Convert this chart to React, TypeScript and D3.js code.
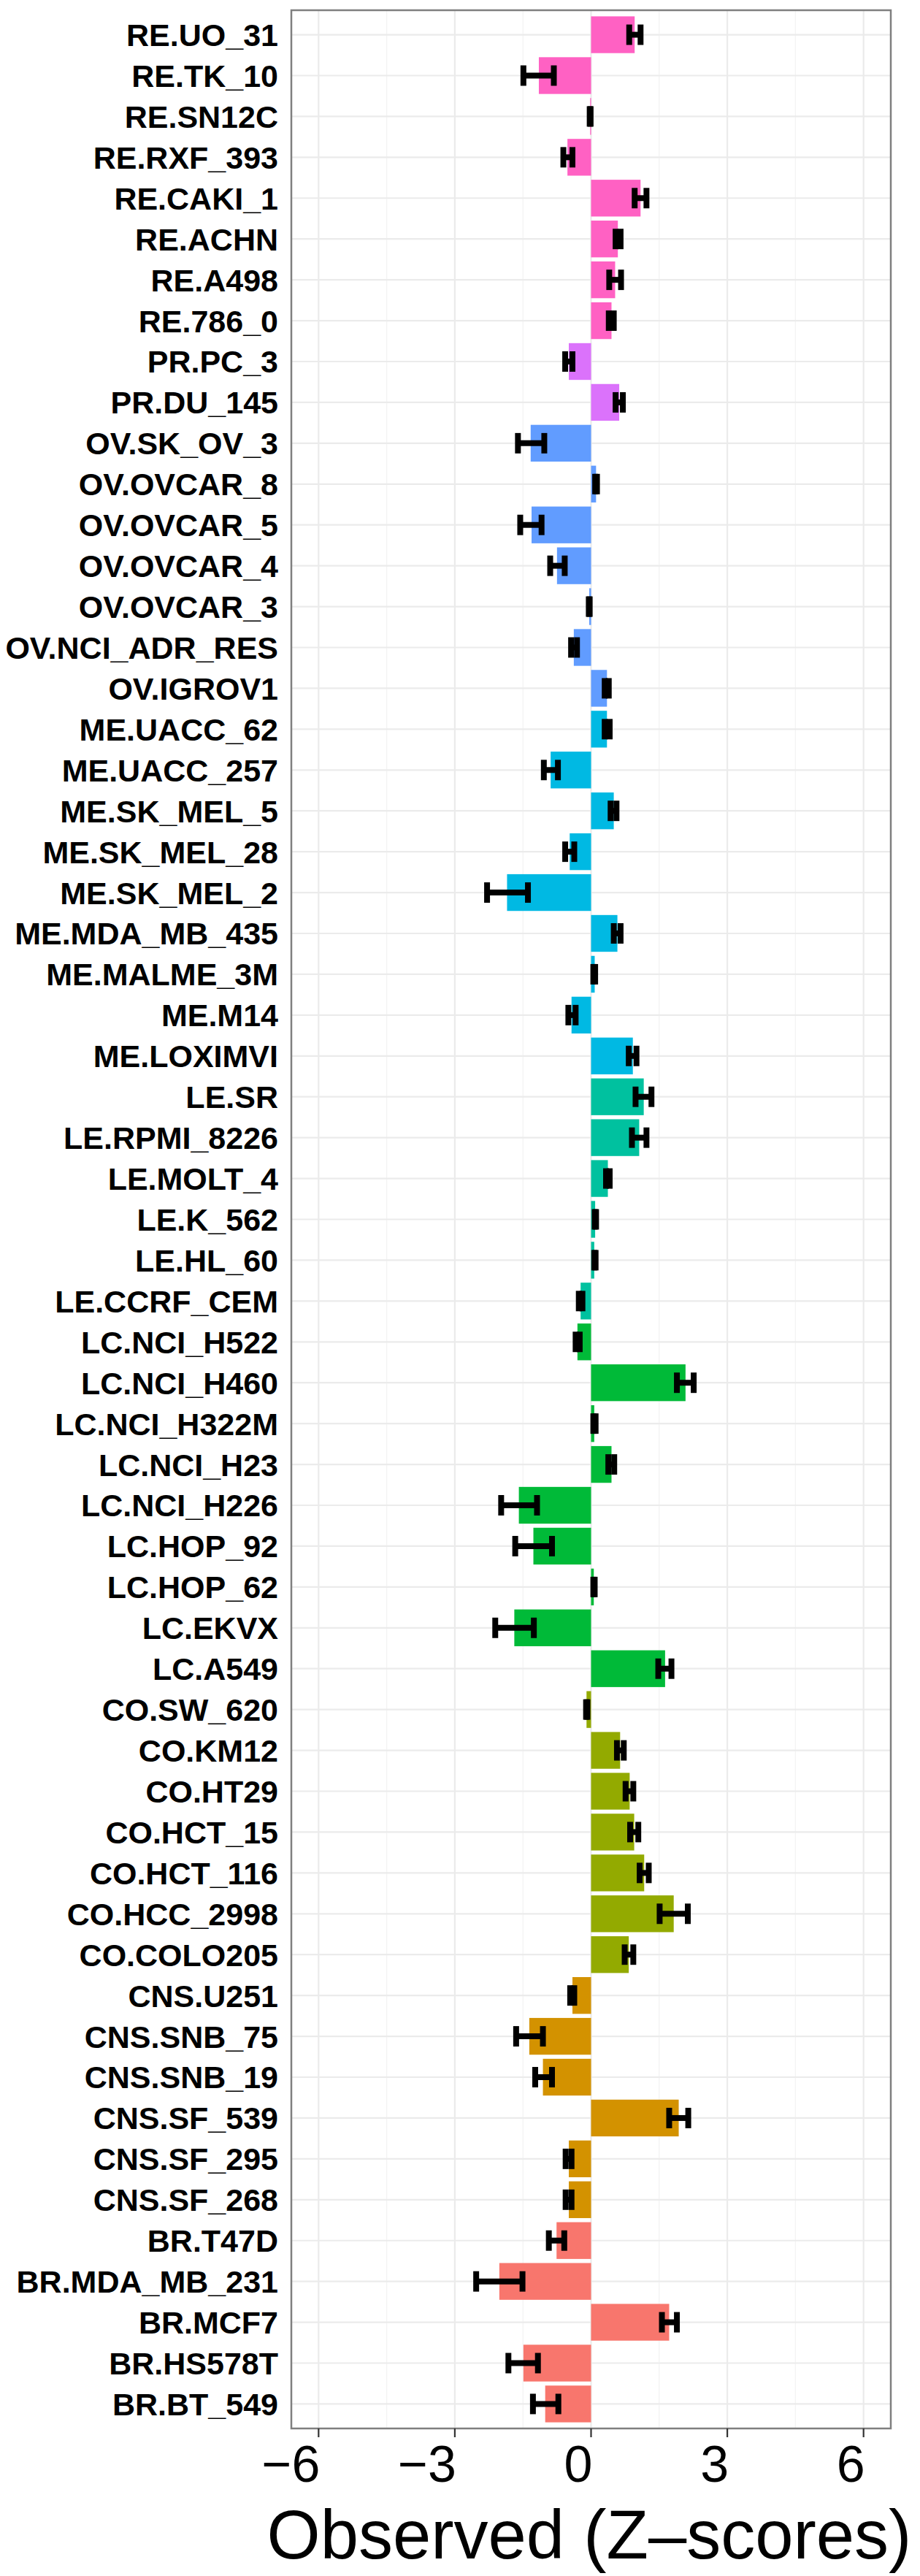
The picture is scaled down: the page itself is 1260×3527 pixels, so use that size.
import React from "react";
import * as d3 from "d3";

const cellLines = [
  "RE.UO_31", "RE.TK_10", "RE.SN12C", "RE.RXF_393", "RE.CAKI_1", "RE.ACHN", "RE.A498", "RE.786_0",
  "PR.PC_3", "PR.DU_145",
  "OV.SK_OV_3", "OV.OVCAR_8", "OV.OVCAR_5", "OV.OVCAR_4", "OV.OVCAR_3", "OV.NCI_ADR_RES", "OV.IGROV1",
  "ME.UACC_62", "ME.UACC_257", "ME.SK_MEL_5", "ME.SK_MEL_28", "ME.SK_MEL_2", "ME.MDA_MB_435", "ME.MALME_3M", "ME.M14", "ME.LOXIMVI",
  "LE.SR", "LE.RPMI_8226", "LE.MOLT_4", "LE.K_562", "LE.HL_60", "LE.CCRF_CEM",
  "LC.NCI_H522", "LC.NCI_H460", "LC.NCI_H322M", "LC.NCI_H23", "LC.NCI_H226", "LC.HOP_92", "LC.HOP_62", "LC.EKVX", "LC.A549",
  "CO.SW_620", "CO.KM12", "CO.HT29", "CO.HCT_15", "CO.HCT_116", "CO.HCC_2998", "CO.COLO205",
  "CNS.U251", "CNS.SNB_75", "CNS.SNB_19", "CNS.SF_539", "CNS.SF_295", "CNS.SF_268",
  "BR.T47D", "BR.MDA_MB_231", "BR.MCF7", "BR.HS578T", "BR.BT_549",
];

const zScores = [
  0.96, -1.15, -0.02, -0.52, 1.09, 0.59, 0.53, 0.45,
  -0.49, 0.62,
  -1.33, 0.11, -1.31, -0.75, -0.04, -0.38, 0.35,
  0.35, -0.89, 0.5, -0.47, -1.85, 0.58, 0.08, -0.43, 0.92,
  1.16, 1.06, 0.37, 0.09, 0.07, -0.23,
  -0.3, 2.08, 0.07, 0.45, -1.59, -1.27, 0.06, -1.69, 1.63,
  -0.1, 0.64, 0.85, 0.95, 1.17, 1.82, 0.83,
  -0.41, -1.36, -1.06, 1.93, -0.49, -0.49,
  -0.76, -2.02, 1.72, -1.49, -1.01,
];

const ciLow = [
  0.84, -1.49, -0.03, -0.61, 0.96, 0.54, 0.4, 0.39,
  -0.57, 0.54,
  -1.61, 0.09, -1.56, -0.9, -0.05, -0.44, 0.3,
  0.3, -1.04, 0.43, -0.57, -2.29, 0.5, 0.05, -0.5, 0.83,
  0.98, 0.9, 0.33, 0.08, 0.07, -0.27,
  -0.34, 1.89, 0.05, 0.38, -1.98, -1.67, 0.05, -2.11, 1.48,
  -0.11, 0.57, 0.76, 0.86, 1.07, 1.51, 0.74,
  -0.46, -1.65, -1.23, 1.72, -0.56, -0.56,
  -0.93, -2.53, 1.56, -1.82, -1.28,
];

const ciHigh = [
  1.09, -0.82, -0.01, -0.41, 1.22, 0.65, 0.66, 0.5,
  -0.41, 0.7,
  -1.03, 0.13, -1.09, -0.58, -0.03, -0.31, 0.39,
  0.41, -0.73, 0.56, -0.37, -1.39, 0.65, 0.09, -0.34, 1.0,
  1.33, 1.22, 0.41, 0.11, 0.1, -0.19,
  -0.25, 2.26, 0.1, 0.51, -1.19, -0.86, 0.08, -1.26, 1.77,
  -0.08, 0.72, 0.93, 1.04, 1.27, 2.13, 0.93,
  -0.37, -1.06, -0.86, 2.14, -0.43, -0.43,
  -0.59, -1.51, 1.89, -1.17, -0.72,
];

const tissues = ["BR", "CNS", "CO", "LC", "LE", "ME", "OV", "PR", "RE"];
const tissueColors = ["#F8766D", "#D39200", "#93AA00", "#00BA38", "#00C19F", "#00B9E3", "#619CFF", "#DB72FB", "#FF61C3"];

const xTicks = [-6, -3, 0, 3, 6];
const xMinorTicks = [-4.5, -1.5, 1.5, 4.5];
const xTitle = "Observed (Z–scores)";

const W = 1260;
const H = 3527;
const panel = { left: 399, right: 1220, top: 14, bottom: 3325 };

export default function App() {
  const x = d3.scaleLinear().domain([-6.6, 6.6]).range([panel.left, panel.right]);
  const y = d3.scalePoint<string>().domain(cellLines).range([panel.top, panel.bottom]).padding(0.6);
  const step = y.step();
  const color = d3.scaleOrdinal<string, string>().domain(tissues).range(tissueColors);
  const fmt = (v: number) => (v < 0 ? "\u2212" + Math.abs(v) : String(v));
  const font = "'Liberation Sans', Arial, Helvetica, sans-serif";

  return (
    <svg
      width={W}
      height={H}
      viewBox={`0 0 ${W} ${H}`}
      style={{ position: "absolute", left: 0, top: 0, display: "block", background: "#fff" }}
    >
      <rect x={0} y={0} width={W} height={H} fill="#fff" />
      {xMinorTicks.map((t) => (
        <line key={"mn" + t} x1={x(t)} x2={x(t)} y1={panel.top} y2={panel.bottom} stroke="#F3F3F3" strokeWidth={1.3} />
      ))}
      {xTicks.map((t) => (
        <line key={"mj" + t} x1={x(t)} x2={x(t)} y1={panel.top} y2={panel.bottom} stroke="#EBEBEB" strokeWidth={2.2} />
      ))}
      {cellLines.map((c) => (
        <line key={"h" + c} x1={panel.left} x2={panel.right} y1={y(c)!} y2={y(c)!} stroke="#EBEBEB" strokeWidth={2.2} />
      ))}
      {cellLines.map((c, i) => {
        const v = zScores[i];
        const g = c.split(".")[0];
        const x0 = x(Math.min(0, v));
        const x1 = x(Math.max(0, v));
        return (
          <rect
            key={"b" + c}
            x={x0}
            y={y(c)! - step * 0.45}
            width={Math.max(x1 - x0, 0.5)}
            height={step * 0.9}
            fill={color(g)}
          />
        );
      })}
      {cellLines.map((c, i) => {
        const cy = y(c)!;
        const lo = x(ciLow[i]);
        const hi = x(ciHigh[i]);
        const hw = step * 0.25;
        return (
          <g key={"e" + c} stroke="#000" strokeWidth={8} strokeLinecap="butt">
            <line x1={lo} x2={hi} y1={cy} y2={cy} />
            <line x1={lo} x2={lo} y1={cy - hw} y2={cy + hw} />
            <line x1={hi} x2={hi} y1={cy - hw} y2={cy + hw} />
          </g>
        );
      })}
      <rect
        x={panel.left}
        y={panel.top}
        width={panel.right - panel.left}
        height={panel.bottom - panel.top}
        fill="none"
        stroke="#7F7F7F"
        strokeWidth={2.5}
      />
      {xTicks.map((t) => (
        <line key={"t" + t} x1={x(t)} x2={x(t)} y1={panel.bottom} y2={panel.bottom + 12} stroke="#333" strokeWidth={2.2} />
      ))}
      {xTicks.map((t) => (
        <text
          key={"tl" + t}
          x={x(t) + 2}
          y={3398}
          textAnchor="end"
          fontFamily={font}
          fontSize={70}
          fill="#000"
        >
          {fmt(t)}
        </text>
      ))}
      {cellLines.map((c) => (
        <text
          key={"yl" + c}
          x={381}
          y={y(c)!}
          dy="0.36em"
          textAnchor="end"
          fontFamily={font}
          fontWeight="bold"
          fontSize={43}
          fill="#000"
        >
          {c}
        </text>
      ))}
      <text
        x={807}
        y={3503}
        textAnchor="middle"
        fontFamily={font}
        fontSize={94}
        fill="#000"
      >
        {xTitle}
      </text>
    </svg>
  );
}
